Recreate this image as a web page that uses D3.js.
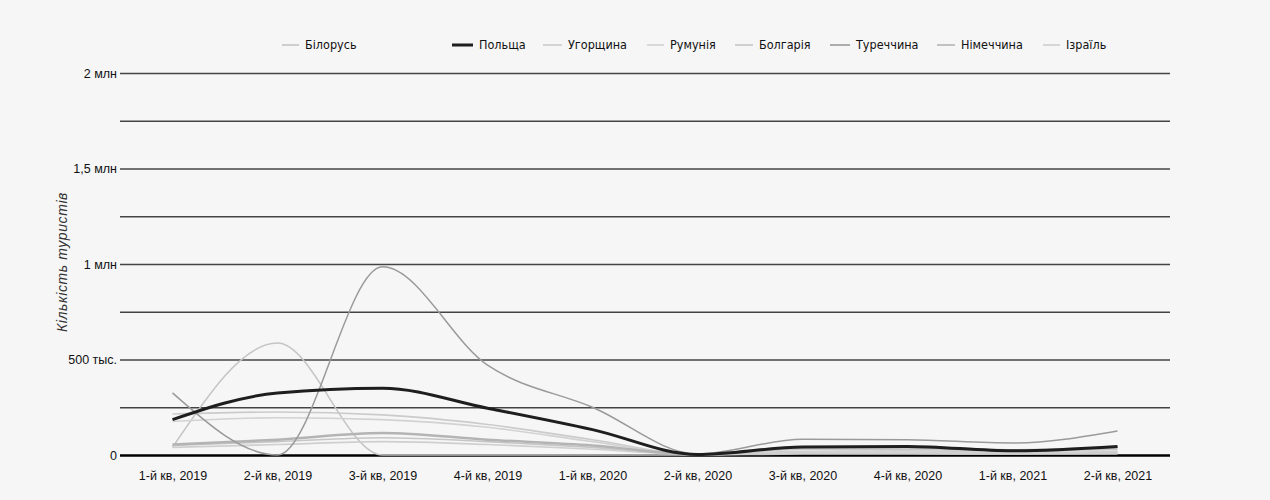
<!DOCTYPE html>
<html>
<head>
<meta charset="utf-8">
<script src="https://cdn.jsdelivr.net/npm/d3@7"></script>
<style>
  html, body { margin: 0; padding: 0; background: #f6f6f6; }
  svg { display: block; font-family: "Liberation Sans Narrow", "DejaVu Sans Condensed", sans-serif; }
</style>
</head>
<body>
<svg id="chart" width="1270" height="500"></svg>
<script>
// ---- data (thousands of tourists) ----
const categories = ["1-й кв, 2019", "2-й кв, 2019", "3-й кв, 2019", "4-й кв, 2019", "1-й кв, 2020",
                    "2-й кв, 2020", "3-й кв, 2020", "4-й кв, 2020", "1-й кв, 2021", "2-й кв, 2021"];
const seriesNames = ["Білорусь", "Польща", "Угорщина", "Румунія", "Болгарія", "Туреччина", "Німеччина", "Ізраїль"];
const belarus  = [40, 586, 0, 0, 0, 0, 5, 5, 4, 5];
const poland   = [185, 325, 350, 245, 133, 3, 42, 45, 22, 45];
const hungary  = [215, 225, 210, 160, 80, 2, 20, 22, 12, 20];
const romania  = [175, 195, 185, 145, 70, 2, 15, 16, 10, 15];
const bulgaria = [50, 70, 90, 70, 40, 2, 30, 30, 20, 30];
const turkey   = [325, 0, 985, 470, 250, 5, 83, 80, 63, 126];
const germany  = [55, 80, 115, 80, 50, 3, 40, 40, 25, 40];
const israel   = [40, 55, 70, 55, 30, 2, 10, 10, 8, 12];
const seriesValues = [belarus, poland, hungary, romania, bulgaria, turkey, germany, israel];
const yTicks = [0, 250000, 500000, 750000, 1000000, 1250000, 1500000, 1750000, 2000000];
const yTickLabels = {0: "0", 500000: "500 тыс.", 1000000: "1 млн", 1500000: "1,5 млн", 2000000: "2 млн"};
const yTitle = "Кількість туристів";

// ---- styles ----
const colors = ["#c4c4c4", "#1e1e1e", "#cbcbcb", "#d2d2d2", "#c6c6c6", "#9a9a9a", "#b4b4b4", "#cfcfcf"];
const widths = [1.5, 3, 1.6, 1.6, 1.6, 1.5, 2.5, 1.6];
const legendX = [282, 452, 543, 647, 735, 830, 937, 1043];
const legendLen = [17, 21, 19, 17, 18, 20, 18, 17];

const svg = d3.select("#chart");
const x = d3.scalePoint().domain(categories).range([120, 1170]).padding(0.5);
const y = d3.scaleLinear().domain([0, 2000000]).range([455, 73]);

// grid + y axis
const yAxis = d3.axisLeft(y).tickValues(yTicks)
  .tickSizeInner(-1050).tickSizeOuter(0).tickPadding(3)
  .tickFormat(d => yTickLabels[d] !== undefined ? yTickLabels[d] : "");
const gy = svg.append("g").attr("transform", "translate(120,0)").call(yAxis);
gy.select(".domain").remove();
gy.selectAll(".tick line").attr("stroke", "#444").attr("stroke-width", 1.7);
gy.selectAll(".tick text").attr("fill", "#111").attr("font-size", 12.5);
gy.selectAll(".tick").filter(d => d === 0).select("line").attr("stroke", "#000").attr("stroke-width", 2.4);

// x axis labels
const xAxis = d3.axisBottom(x).tickSize(0).tickPadding(16);
const gx = svg.append("g").attr("transform", "translate(0,455)").call(xAxis);
gx.select(".domain").remove();
gx.selectAll(".tick text").attr("fill", "#111").attr("font-size", 12.5);

// y title
svg.append("text")
  .attr("transform", "translate(67,262) rotate(-90)")
  .attr("text-anchor", "middle")
  .attr("font-style", "italic")
  .attr("fill", "#333")
  .style("font-family", "'Liberation Sans', sans-serif")
  .style("font-size", "14px")
  .style("letter-spacing", "0.6px")
  .text(yTitle);

// lines
const line = d3.line()
  .x((d, i) => x(categories[i]))
  .y(d => y(d * 1000))
  .curve(d3.curveMonotoneX);

const order = [0, 2, 3, 4, 7, 6, 5, 1];
order.forEach(k => {
  svg.append("path")
    .datum(seriesValues[k])
    .attr("fill", "none")
    .attr("stroke", colors[k])
    .attr("stroke-width", widths[k])
    .attr("stroke-linejoin", "round")
    .attr("d", line);
});

// legend
const lg = svg.append("g");
seriesNames.forEach((name, k) => {
  lg.append("line")
    .attr("x1", legendX[k]).attr("x2", legendX[k] + legendLen[k])
    .attr("y1", 45).attr("y2", 45)
    .attr("stroke", colors[k]).attr("stroke-width", k === 1 ? 3 : 1.6);
  lg.append("text")
    .attr("x", legendX[k] + legendLen[k] + 6).attr("y", 45)
    .attr("dy", "0.35em")
    .attr("font-size", 12.5)
    .attr("fill", "#111")
    .text(name);
});
</script>
</body>
</html>
